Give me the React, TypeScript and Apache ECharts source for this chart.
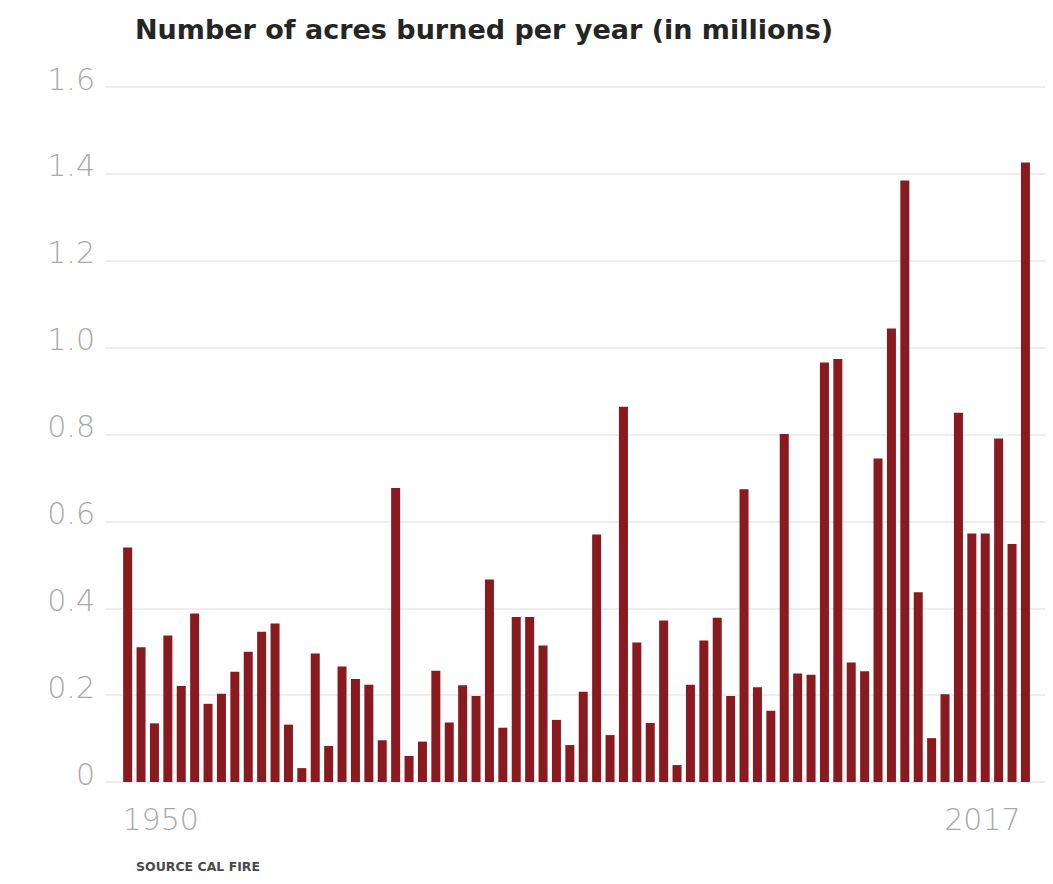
import React, { useEffect, useRef } from "react";
import * as echarts from "echarts";

const title = "Number of acres burned per year (in millions)";
const source = "SOURCE CAL FIRE";
const firstYear = 1950;
const acresMillions = [
  0.54, 0.31, 0.135, 0.337, 0.221, 0.388, 0.18, 0.203, 0.254, 0.3,
  0.346, 0.365, 0.132, 0.032, 0.296, 0.083, 0.266, 0.237, 0.224, 0.096,
  0.677, 0.06, 0.093, 0.256, 0.137, 0.223, 0.198, 0.466, 0.125, 0.38,
  0.38, 0.314, 0.143, 0.085, 0.208, 0.57, 0.108, 0.864, 0.321, 0.136,
  0.372, 0.039, 0.224, 0.326, 0.378, 0.198, 0.674, 0.218, 0.164, 0.801,
  0.25, 0.247, 0.966, 0.974, 0.275, 0.255, 0.745, 1.044, 1.385, 0.437,
  0.101, 0.202, 0.85, 0.572, 0.572, 0.791, 0.548, 1.426,
];
const years = acresMillions.map((_, i) => firstYear + i);
const xTickYears = [1950, 2017];
const yTicks = [0, 0.2, 0.4, 0.6, 0.8, 1.0, 1.2, 1.4, 1.6];

export default function App() {
  const ref = useRef<HTMLDivElement>(null);
  useEffect(() => {
    if (!ref.current) return;
    const chart = echarts.init(ref.current, undefined, { renderer: "svg" });
    const axisFont = "DejaVu Sans";
    const labelStyle = {
      fontFamily: axisFont,
      fontWeight: 200,
      fontSize: 30,
      color: "#a9a9a9",
    };
    chart.setOption({
      animation: false,
      backgroundColor: "#ffffff",
      title: [
        {
          text: title,
          left: 130,
          top: 11,
          textStyle: {
            fontFamily: "DejaVu Sans",
            fontWeight: "bold",
            fontSize: 27,
            color: "#252525",
          },
        },
        {
          text: source,
          left: 131,
          top: 855,
          textStyle: {
            fontFamily: "DejaVu Sans",
            fontWeight: "bold",
            fontSize: 12.5,
            color: "#4a4a4a",
          },
        },
      ],
      grid: { left: 105, right: 8, top: 87, bottom: 102 },
      xAxis: {
        type: "value",
        min: 1948.31,
        max: 2018.46,
        splitLine: { show: false },
        axisLine: { show: false },
        axisTick: { show: false },
        axisLabel: {
          customValues: xTickYears,
          margin: 22,
          ...labelStyle,
          formatter: (v: number) =>
            v === xTickYears[0] ? `{l|${v}}` : `{r|${v}}`,
          rich: {
            l: { ...labelStyle, padding: [0, 0, 0, 66] },
            r: { ...labelStyle, padding: [0, 86, 0, 0] },
          },
        },
      },
      yAxis: {
        type: "value",
        min: 0,
        max: 1.6,
        interval: 0.2,
        axisLine: { show: false },
        axisTick: { show: false },
        splitLine: { lineStyle: { color: "#e8e8e8", width: 1.5 } },
        axisLabel: {
          margin: 10,
          ...labelStyle,
          formatter: (v: number) => {
            const t = yTicks.find((k) => Math.abs(k - v) < 1e-6);
            const val = t === undefined ? v : t;
            return `{a|${val === 0 ? "0" : val.toFixed(1)}}`;
          },
          rich: {
            a: { ...labelStyle, padding: [0, 0, 16, 0] },
          },
        },
      },
      series: [
        {
          type: "bar",
          data: years.map((y, i) => [y, acresMillions[i]]),
          barWidth: 9,
          itemStyle: { color: "#881a20" },
        },
      ],
    });
    return () => chart.dispose();
  }, []);
  return (
    <div
      ref={ref}
      style={{ position: "absolute", left: 0, top: 0, width: 1053, height: 884 }}
    />
  );
}
